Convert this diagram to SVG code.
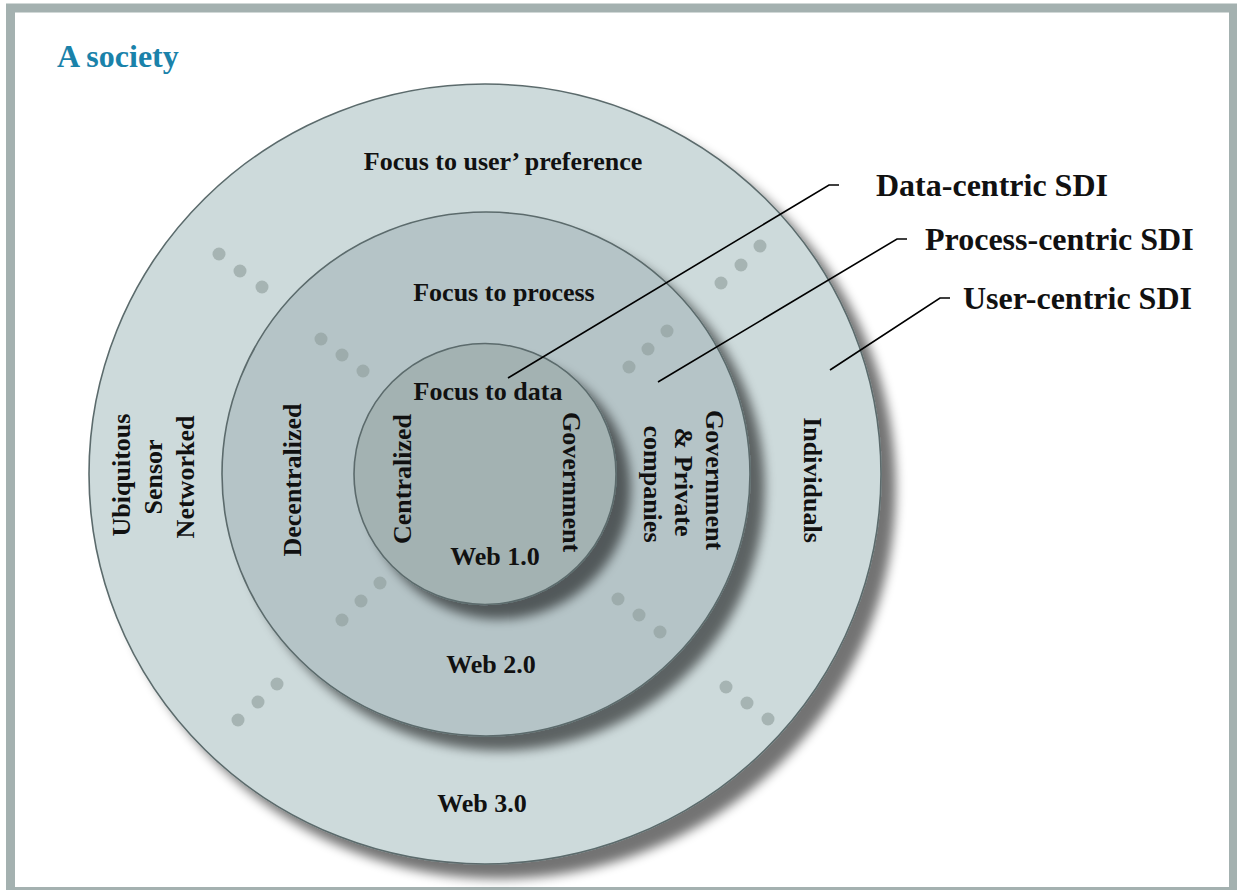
<svg xmlns="http://www.w3.org/2000/svg" width="1237" height="890" viewBox="0 0 1237 890">
  <defs>
    <!-- soft drop shadow cast down and to the right -->
    <filter id="drop" x="-10%" y="-10%" width="125%" height="125%">
      <feGaussianBlur in="SourceAlpha" stdDeviation="5.5"/>
      <feOffset dx="14" dy="14" result="off"/>
      <feComponentTransfer>
        <feFuncA type="linear" slope="0.55"/>
      </feComponentTransfer>
      <feMerge>
        <feMergeNode/>
        <feMergeNode in="SourceGraphic"/>
      </feMerge>
    </filter>
    <style>
      .lbl { font-family: "Liberation Serif", "Times New Roman", serif; font-weight: bold; font-size: 26px; fill: #111; text-anchor: middle; }
      .sdi { font-family: "Liberation Serif", "Times New Roman", serif; font-weight: bold; font-size: 32px; fill: #111; }
      .ring { stroke: #5b6b6c; stroke-width: 1.6; filter: url(#drop); }
      .dot-o { fill: #a6b4b3; }
      .dot-m { fill: #9dacac; }
      .lead { fill: none; stroke: #000; stroke-width: 1.6; }
    </style>
  </defs>

  <!-- frame -->
  <g id="frame">
    <rect x="0" y="0" width="1237" height="890" fill="#fff"/>
    <rect x="10.5" y="8" width="1223" height="883.5" fill="none" stroke="#a4b1b0" stroke-width="9"/>
    <text x="57" y="67" font-family="Liberation Serif, Times New Roman, serif" font-weight="bold" font-size="32" fill="#1a82aa">A society</text>
  </g>

  <!-- outer ring: user-centric -->
  <g id="ring-outer">
    <ellipse class="ring" cx="485" cy="474" rx="396" ry="390" fill="#cddadb"/>
    <text class="lbl" x="503" y="170">Focus to user’ preference</text>
    <text class="lbl" x="482" y="812">Web 3.0</text>
    <text class="lbl" transform="translate(0,475) rotate(-90)" x="0" y="130">Ubiquitous</text>
    <text class="lbl" transform="translate(0,477) rotate(-90)" x="0" y="162">Sensor</text>
    <text class="lbl" transform="translate(0,477) rotate(-90)" x="0" y="194">Networked</text>
    <text class="lbl" transform="translate(804,480) rotate(90)" x="0" y="0">Individuals</text>
    <circle class="dot-o" cx="219" cy="254" r="6.5"/>
    <circle class="dot-o" cx="240" cy="271" r="6.5"/>
    <circle class="dot-o" cx="262" cy="287" r="6.5"/>
    <circle class="dot-o" cx="721" cy="283" r="6.5"/>
    <circle class="dot-o" cx="741" cy="265" r="6.5"/>
    <circle class="dot-o" cx="760" cy="246" r="6.5"/>
    <circle class="dot-o" cx="238" cy="720" r="6.5"/>
    <circle class="dot-o" cx="258" cy="702" r="6.5"/>
    <circle class="dot-o" cx="277" cy="684" r="6.5"/>
    <circle class="dot-o" cx="726" cy="687" r="6.5"/>
    <circle class="dot-o" cx="747" cy="703" r="6.5"/>
    <circle class="dot-o" cx="768" cy="719" r="6.5"/>
  </g>

  <!-- middle ring: process-centric -->
  <g id="ring-middle">
    <ellipse class="ring" cx="486" cy="474" rx="264" ry="262" fill="#b5c4c7"/>
    <text class="lbl" x="504" y="301">Focus to process</text>
    <text class="lbl" x="491" y="673">Web 2.0</text>
    <text class="lbl" transform="translate(301,480) rotate(-90)" x="0" y="0">Decentralized</text>
    <text class="lbl" transform="translate(706,480) rotate(90)" x="0" y="0">Government</text>
    <text class="lbl" transform="translate(706,482) rotate(90)" x="0" y="31">&amp; Private</text>
    <text class="lbl" transform="translate(706,484) rotate(90)" x="0" y="62">companies</text>
    <circle class="dot-m" cx="321" cy="339" r="6.5"/>
    <circle class="dot-m" cx="342" cy="355" r="6.5"/>
    <circle class="dot-m" cx="363" cy="371" r="6.5"/>
    <circle class="dot-m" cx="629" cy="367" r="6.5"/>
    <circle class="dot-m" cx="648" cy="349" r="6.5"/>
    <circle class="dot-m" cx="667" cy="331" r="6.5"/>
    <circle class="dot-m" cx="342" cy="620" r="6.5"/>
    <circle class="dot-m" cx="361" cy="601" r="6.5"/>
    <circle class="dot-m" cx="380" cy="583" r="6.5"/>
    <circle class="dot-m" cx="618" cy="599" r="6.5"/>
    <circle class="dot-m" cx="639" cy="615" r="6.5"/>
    <circle class="dot-m" cx="660" cy="632" r="6.5"/>
  </g>

  <!-- inner disc: data-centric -->
  <g id="ring-inner">
    <ellipse class="ring" cx="485" cy="474" rx="131" ry="130.5" fill="#a3b2b2"/>
    <text class="lbl" x="488" y="400">Focus to data</text>
    <text class="lbl" x="495" y="565">Web 1.0</text>
    <text class="lbl" transform="translate(411,479) rotate(-90)" x="0" y="0">Centralized</text>
    <text class="lbl" transform="translate(563,482) rotate(90)" x="0" y="0">Government</text>
  </g>

  <!-- leader lines -->
  <g id="connectors">
    <polyline class="lead" points="508,378 829,185 839,185"/>
    <polyline class="lead" points="658,382 897,239 907,239"/>
    <polyline class="lead" points="830,370 940,298 950,298"/>
  </g>

  <!-- SDI callouts -->
  <g id="sdi-labels">
    <text class="sdi" x="876" y="196">Data-centric SDI</text>
    <text class="sdi" x="925" y="250">Process-centric SDI</text>
    <text class="sdi" x="963" y="309">User-centric SDI</text>
  </g>
</svg>
